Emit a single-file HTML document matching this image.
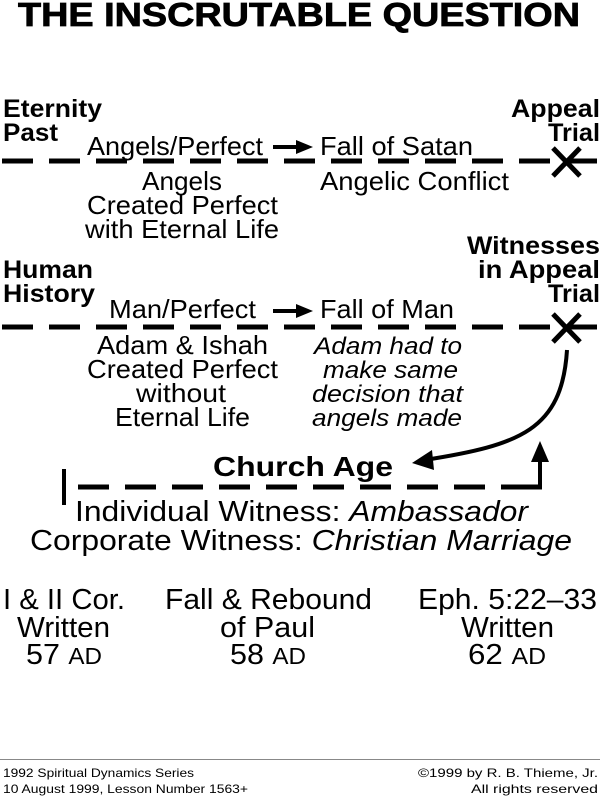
<!DOCTYPE html>
<html><head><meta charset="utf-8"><style>
html,body{margin:0;padding:0;background:#fff;}
svg{display:block;}
text{font-family:"Liberation Sans",Arial,sans-serif;fill:#000;}
.b{font-weight:bold;}
.i{font-style:italic;}
</style></head><body>
<svg width="600" height="797" viewBox="0 0 600 797" xmlns="http://www.w3.org/2000/svg">
<text x="18" y="26" font-size="33" class="b" textLength="562" lengthAdjust="spacingAndGlyphs" stroke="#000" stroke-width="0.8">THE INSCRUTABLE QUESTION</text>

<!-- line 1 -->
<line x1="2" y1="161" x2="600" y2="161" stroke="#000" stroke-width="5" stroke-dasharray="31 16"/>
<g stroke="#000" stroke-width="5"><line x1="553" y1="148" x2="580" y2="176"/><line x1="580" y1="148" x2="553" y2="176"/></g>
<text x="3" y="117" font-size="25" class="b" textLength="99" lengthAdjust="spacingAndGlyphs">Eternity</text>
<text x="3" y="141" font-size="25" class="b" textLength="55" lengthAdjust="spacingAndGlyphs">Past</text>
<text x="511" y="117" font-size="25" class="b" textLength="89" lengthAdjust="spacingAndGlyphs">Appeal</text>
<text x="548" y="141" font-size="25" class="b" textLength="52" lengthAdjust="spacingAndGlyphs">Trial</text>
<text x="87" y="155" font-size="26" textLength="176" lengthAdjust="spacingAndGlyphs">Angels/Perfect</text>
<line x1="273" y1="147" x2="298" y2="147" stroke="#000" stroke-width="4"/>
<polygon points="296,140 313,147 296,154" fill="#000"/>
<text x="320" y="155" font-size="26" textLength="153" lengthAdjust="spacingAndGlyphs">Fall of Satan</text>
<text x="142" y="190" font-size="26" textLength="80" lengthAdjust="spacingAndGlyphs">Angels</text>
<text x="87" y="214" font-size="26" textLength="191" lengthAdjust="spacingAndGlyphs">Created Perfect</text>
<text x="85" y="238" font-size="26" textLength="194" lengthAdjust="spacingAndGlyphs">with Eternal Life</text>
<text x="320" y="190" font-size="26" textLength="189" lengthAdjust="spacingAndGlyphs">Angelic Conflict</text>

<!-- line 2 -->
<line x1="2" y1="327" x2="600" y2="327" stroke="#000" stroke-width="5" stroke-dasharray="31 16"/>
<g stroke="#000" stroke-width="5"><line x1="553" y1="314" x2="580" y2="342"/><line x1="580" y1="314" x2="553" y2="342"/></g>
<text x="467" y="254" font-size="25" class="b" textLength="133" lengthAdjust="spacingAndGlyphs">Witnesses</text>
<text x="478" y="278" font-size="25" class="b" textLength="122" lengthAdjust="spacingAndGlyphs">in Appeal</text>
<text x="548" y="302" font-size="25" class="b" textLength="52" lengthAdjust="spacingAndGlyphs">Trial</text>
<text x="3" y="278" font-size="25" class="b" textLength="90" lengthAdjust="spacingAndGlyphs">Human</text>
<text x="3" y="302" font-size="25" class="b" textLength="92" lengthAdjust="spacingAndGlyphs">History</text>
<text x="109" y="318" font-size="26" textLength="147" lengthAdjust="spacingAndGlyphs">Man/Perfect</text>
<line x1="273" y1="311" x2="298" y2="311" stroke="#000" stroke-width="4"/>
<polygon points="296,304 313,311 296,318" fill="#000"/>
<text x="320" y="318" font-size="26" textLength="134" lengthAdjust="spacingAndGlyphs">Fall of Man</text>
<text x="97" y="354" font-size="26" textLength="171" lengthAdjust="spacingAndGlyphs">Adam &amp; Ishah</text>
<text x="87" y="378" font-size="26" textLength="191" lengthAdjust="spacingAndGlyphs">Created Perfect</text>
<text x="136" y="402" font-size="26" textLength="90" lengthAdjust="spacingAndGlyphs">without</text>
<text x="115" y="426" font-size="26" textLength="135" lengthAdjust="spacingAndGlyphs">Eternal Life</text>
<text x="314" y="354" font-size="24" class="i" textLength="148" lengthAdjust="spacingAndGlyphs">Adam had to</text>
<text x="323" y="378" font-size="24" class="i" textLength="135" lengthAdjust="spacingAndGlyphs">make same</text>
<text x="312" y="402" font-size="24" class="i" textLength="151" lengthAdjust="spacingAndGlyphs">decision that</text>
<text x="312" y="426" font-size="24" class="i" textLength="150" lengthAdjust="spacingAndGlyphs">angels made</text>

<!-- curved arrow -->
<path d="M567,350 C562,430 520,445 425,460" fill="none" stroke="#000" stroke-width="4"/>
<polygon points="412,463 432,450 434,470" fill="#000"/>

<!-- church age line -->
<line x1="64" y1="469" x2="64" y2="505" stroke="#000" stroke-width="4"/>
<line x1="64" y1="487" x2="537" y2="487" stroke="#000" stroke-width="5" stroke-dasharray="31 16" stroke-dashoffset="-14"/>
<line x1="518" y1="487" x2="542" y2="487" stroke="#000" stroke-width="5"/>
<line x1="540" y1="489" x2="540" y2="458" stroke="#000" stroke-width="4"/>
<polygon points="531,462 540,441 549,462" fill="#000"/>
<text x="213" y="476" font-size="28" class="b" textLength="180" lengthAdjust="spacingAndGlyphs">Church Age</text>
<text x="75" y="521" font-size="29" textLength="453" lengthAdjust="spacingAndGlyphs">Individual Witness: <tspan class="i">Ambassador</tspan></text>
<text x="30" y="550" font-size="29" textLength="542" lengthAdjust="spacingAndGlyphs">Corporate Witness: <tspan class="i">Christian Marriage</tspan></text>

<!-- bottom -->
<text x="3" y="609" font-size="29" textLength="122" lengthAdjust="spacingAndGlyphs">I &amp; II Cor.</text>
<text x="17" y="637" font-size="29" textLength="93" lengthAdjust="spacingAndGlyphs">Written</text>
<text x="26" y="664" font-size="29" textLength="76" lengthAdjust="spacingAndGlyphs">57 <tspan font-size="23">AD</tspan></text>
<text x="165" y="609" font-size="29" textLength="207" lengthAdjust="spacingAndGlyphs">Fall &amp; Rebound</text>
<text x="220" y="637" font-size="29" textLength="95" lengthAdjust="spacingAndGlyphs">of Paul</text>
<text x="230" y="664" font-size="29" textLength="76" lengthAdjust="spacingAndGlyphs">58 <tspan font-size="23">AD</tspan></text>
<text x="418" y="609" font-size="29" textLength="179" lengthAdjust="spacingAndGlyphs">Eph. 5:22–33</text>
<text x="461" y="637" font-size="29" textLength="93" lengthAdjust="spacingAndGlyphs">Written</text>
<text x="468" y="664" font-size="29" textLength="78" lengthAdjust="spacingAndGlyphs">62 <tspan font-size="23">AD</tspan></text>

<line x1="0" y1="759.5" x2="600" y2="759.5" stroke="#888" stroke-width="1"/>
<text x="3" y="777" font-size="12" textLength="191" lengthAdjust="spacingAndGlyphs">1992 Spiritual Dynamics Series</text>
<text x="3" y="793" font-size="12" textLength="245" lengthAdjust="spacingAndGlyphs">10 August 1999, Lesson Number 1563+</text>
<text x="418" y="777" font-size="12" textLength="180" lengthAdjust="spacingAndGlyphs">©1999 by R. B. Thieme, Jr.</text>
<text x="471" y="793" font-size="12" textLength="127" lengthAdjust="spacingAndGlyphs">All rights reserved</text>
</svg>
</body></html>
